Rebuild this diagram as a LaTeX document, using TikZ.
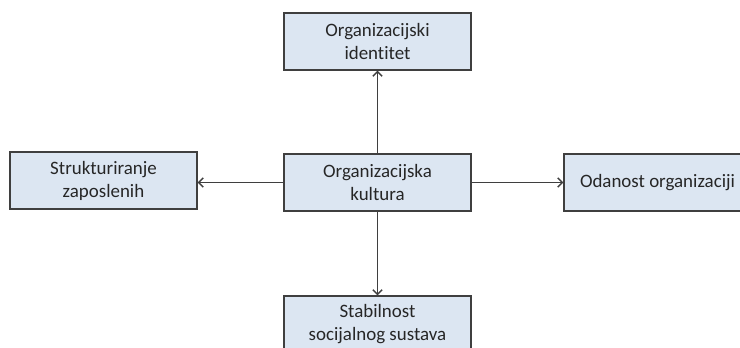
\documentclass[tikz,border=0pt]{standalone}
\usepackage{fontspec}
\setmainfont{Carlito}[Ligatures=NoCommon]
\usetikzlibrary{shadows,arrows.meta}

\definecolor{boxblue}{HTML}{DCE6F2}
\definecolor{boxline}{HTML}{3F3F3F}

\tikzset{
  box/.style={draw=boxline, line width=1.1pt, fill=boxblue, text=black!85,
    minimum width=140pt, minimum height=42.5pt, inner sep=0pt, align=center,
    font=\fontsize{14.2}{17.2}\selectfont,
    drop shadow={shadow xshift=1pt, shadow yshift=-1pt, fill=black!35, opacity=.6}},
  link/.style={-{Straight Barb[length=3.5pt, width=7pt]}, draw=boxline, line width=1.1pt}
}

\begin{document}
\begin{tikzpicture}[x=0.75pt, y=-0.75pt]
\useasboundingbox (0,0) rectangle (740,348);
% centre and the four outcomes
\node[box] (kultura) at (377.5,182.5) {Organizacijska\\kultura};
\node[box] (identitet) at (377.5,41.5) {Organizacijski\\identitet};
\node[box] (struktura) at (103.5,180.5) {Strukturiranje\\zaposlenih};
\node[box] (odanost) at (657.5,182.5) {Odanost organizaciji};
\node[box] (stabilnost) at (377.5,324.5) {Stabilnost\\socijalnog sustava};

\draw[link] (kultura) -- (identitet);
\draw[link] (kultura.west) -- (struktura.east |- kultura.west);
\draw[link] (kultura) -- (odanost);
\draw[link] (kultura) -- (stabilnost);
\end{tikzpicture}
\end{document}
